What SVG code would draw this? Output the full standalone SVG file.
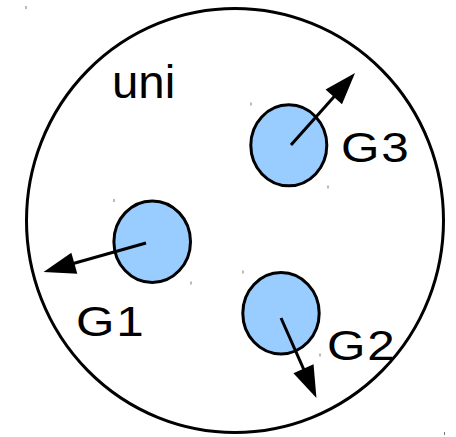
<svg xmlns="http://www.w3.org/2000/svg" width="456" height="437" viewBox="0 0 456 437">
<style>
.ball{fill:#99ccff;stroke:#000;stroke-width:3}
.lbl{font-family:"Liberation Sans",Arial,sans-serif;font-size:43px;letter-spacing:1.5px;fill:#000}
.uni{font-family:"Liberation Sans",Arial,sans-serif;font-size:46px;fill:#000}
.arr{stroke:#000;stroke-width:3;fill:none;marker-end:url(#ah)}
.tick{fill:#777}
</style>
<defs>
<marker id="ah" markerUnits="userSpaceOnUse" markerWidth="34" markerHeight="24" refX="2" refY="11" orient="auto" viewBox="0 0 34 24" overflow="visible">
<path d="M0,0 L32,11 L0,22 z" fill="#000"/>
</marker>
</defs>
<rect width="456" height="437" fill="#fff"/>
<g id="uni">
<ellipse cx="235" cy="220.5" rx="208.5" ry="212" fill="none" stroke="#000" stroke-width="3"/>
<rect class="tick" x="25.5" y="6" width="1" height="3"/>
<rect class="tick" x="444" y="432" width="1" height="3"/>
<text class="uni" transform="translate(112,97.5) scale(1.03,1)">uni</text>
</g>
<g id="G1">
<ellipse class="ball" cx="152.2" cy="241.7" rx="38.3" ry="40.8"/>
<rect class="tick" x="113.5" y="199" width="1" height="3"/>
<rect class="tick" x="190.5" y="281.5" width="1" height="3"/>
<text class="lbl" transform="translate(76,336) scale(1.15,1)">G1</text>
</g>
<g id="G2">
<ellipse class="ball" cx="281" cy="313.2" rx="38.2" ry="40.7"/>
<rect class="tick" x="242.5" y="270.5" width="1" height="3"/>
<rect class="tick" x="319.5" y="353.5" width="1" height="3"/>
<text class="lbl" transform="translate(327,359.5) scale(1.15,1)">G2</text>
</g>
<g id="G3">
<ellipse class="ball" cx="288.8" cy="145.3" rx="38" ry="40.5"/>
<rect class="tick" x="250.5" y="102.5" width="1" height="3"/>
<rect class="tick" x="327.5" y="185.5" width="1" height="3"/>
<text class="lbl" transform="translate(341,162) scale(1.15,1)">G3</text>
</g>
<g id="connectors">
<line class="arr" x1="146" y1="243" x2="72.4" y2="263.8"/>
<line class="arr" x1="281" y1="318" x2="304.3" y2="370.6"/>
<line class="arr" x1="291" y1="145" x2="335.1" y2="95.4"/>
</g>
</svg>
